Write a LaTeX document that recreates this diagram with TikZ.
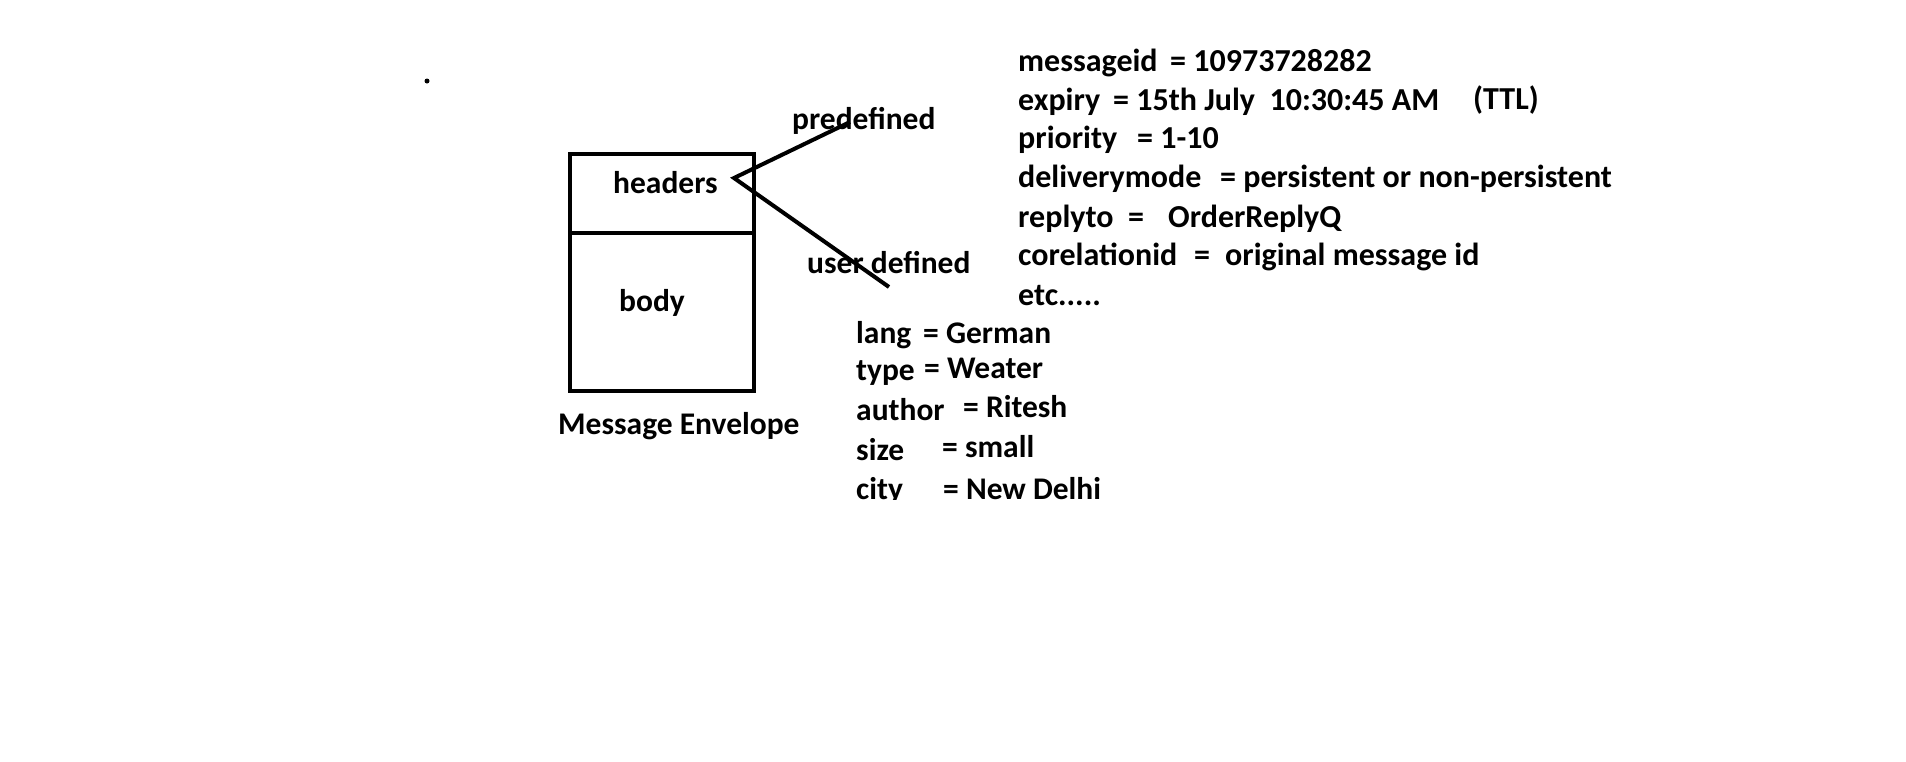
\documentclass[tikz,border=0pt]{standalone}
\usepackage{fontspec}
\setmainfont{Carlito}
\begin{document}
\begin{tikzpicture}[x=1pt,y=-1pt,
  txt/.style={font=\bfseries\fontsize{31.5}{31.5}\selectfont, inner sep=0pt, anchor=base west},
  rtxt/.style={txt, font=\bfseries\fontsize{32}{32}\selectfont},
  ltxt/.style={txt, font=\bfseries\fontsize{31.5}{31.5}\selectfont},
  part/.style={draw, line width=4.5pt, minimum width=184pt, inner sep=0pt, outer sep=0pt},
  conn/.style={line width=4pt, line join=miter}]
\useasboundingbox (0,0) rectangle (1906,761);
\fill (427,81) circle (2.5pt);
% envelope
\node[part, minimum height=79pt, anchor=north west] (hdr) at (570,154) {};
\node[part, minimum height=158pt, anchor=north west] (bdy) at (hdr.south west) {};
\node[txt] (thdr) at (613,193) {headers};
\node[txt] (tbdy) at (619,311) {body};
\node[txt] (tenv) at (558,434) {Message Envelope};
% connectors
\coordinate (v) at (734,178);
\coordinate (pe) at (850,122);
\coordinate (ue) at (889,287);
\draw[conn] (pe) -- (v) -- (ue);
\node[txt] (tpre) at (792,129) {predefined};
\node[txt] (tusr) at (807,273) {user defined};
% predefined headers
\node[rtxt] (k1) at (1018,71) {messageid};
\node[rtxt] (v1) at (1170,71) {= 10973728282};
\node[rtxt] (k2) at (1018,110) {expiry};
\node[rtxt] (v2) at (1113,110) {= 15th July\ \ 10:30:45 AM};
\node[rtxt] (v2b) at (1473,109) {(TTL)};
\node[rtxt] (k3) at (1018,148) {priority};
\node[rtxt] (v3) at (1137,148) {= 1-10};
\node[rtxt] (k4) at (1018,187) {deliverymode};
\node[rtxt] (v4) at (1220,187) {= persistent or non-persistent};
\node[rtxt] (k5) at (1018,227) {replyto};
\node[rtxt] (v5a) at (1128,227) {=};
\node[rtxt] (v5) at (1168,227) {OrderReplyQ};
\node[rtxt] (k6) at (1018,265) {corelationid};
\node[rtxt] (v6a) at (1194,265) {=};
\node[rtxt] (v6) at (1225,265) {original message id};
\node[rtxt] (k7) at (1018,305) {etc.....};
% user defined headers
\node[ltxt] (u1) at (856,343) {lang};
\node[ltxt] (w1) at (923,343) {= German};
\node[ltxt] (u2) at (856,380) {type};
\node[ltxt] (w2) at (924,378) {= Weater};
\node[ltxt] (u3) at (856,420) {author};
\node[ltxt] (w3) at (963,417) {= Ritesh};
\node[ltxt] (u4) at (856,460) {size};
\node[ltxt] (w4) at (942,457) {= small};
\begin{scope}
\clip (800,440) rectangle (1200,499);
\node[ltxt] (u5) at (856,499) {city};
\node[ltxt] (w5) at (943,499) {= New Delhi};
\end{scope}
\end{tikzpicture}
\end{document}
